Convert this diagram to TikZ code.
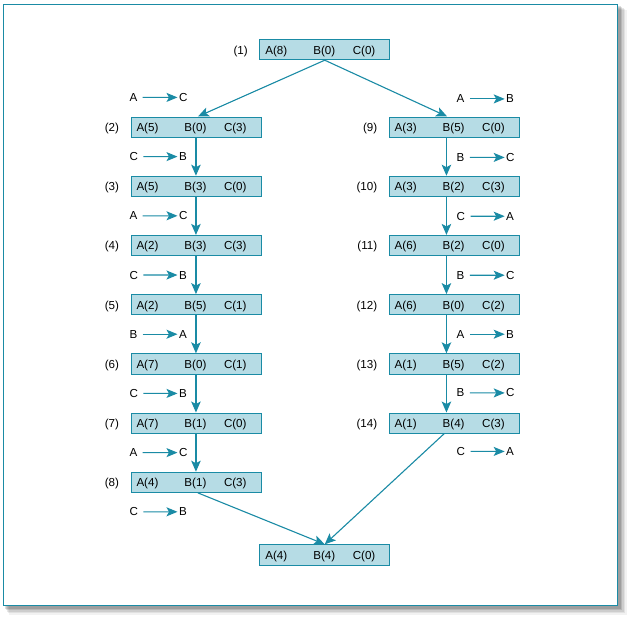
\documentclass[tikz,border=0pt]{standalone}
\usepackage{fontspec}
\setmainfont{Liberation Sans}
\usetikzlibrary{arrows.meta}
\definecolor{tealc}{HTML}{1A8BA5}
\definecolor{boxfill}{HTML}{B6DCE5}
\newcommand\stbox[7]{% name, left, top, label, a, b, c
  \node[st] (#1) at (#2,#3) {};
  \node[txt, anchor=base west] (#1a) at ([xshift=6pt,yshift=-4.4pt]#1.west) {#5};
  \node[txt, anchor=base] (#1b) at ([xshift=-0.5pt,yshift=-4.4pt]#1.center) {#6};
  \node[txt, anchor=base west] (#1c) at ([xshift=93.5pt,yshift=-4.4pt]#1.west) {#7};
  \node[txt, anchor=base east] (#1n) at ([xshift=-11.5pt,yshift=-4.4pt]#1.west) {#4};
}
\newcommand\mvlabel[5]{% name, x, y, L1, L2
  \node[txt, anchor=base west] (#1p) at (#2,#3+4.4) {#4};
  \node[txt, anchor=base west] (#1q) at (#2+49.5,#3+4.4) {#5};
  \draw[mv] ([xshift=5.5pt]#1p.east) -- ([xshift=-1.5pt]#1q.west);
}
\begin{document}
\begin{tikzpicture}[x=1pt,y=-1pt,
  txt/.style={font=\fontsize{11.6}{13}\selectfont, inner sep=0pt, outer sep=0pt},
  st/.style={draw=tealc, fill=boxfill, line width=0.9pt, minimum width=130pt, minimum height=20.3pt, anchor=north west, inner sep=0pt},
  conn/.style={draw=tealc, line width=1.1pt, -{Stealth[length=11pt,width=9.5pt,inset=2.5pt]}},
  mv/.style={draw=tealc, line width=1.1pt, -{Stealth[length=11pt,width=9pt,inset=2.5pt]}}]
\useasboundingbox (0,0) rectangle (630,619);
% shadow
\foreach \d/\o in {9/0.05,7.5/0.07,6/0.09,4.5/0.11,3/0.13}{
  \fill[black, opacity=\o] (3.5+\d*0.6,4.5+\d*0.6) rectangle (617.5+\d,605.5+\d);
}
\draw[tealc, line width=1.3pt, fill=white] (3.5,4.5) rectangle (617.5,605.5);

% boxes
\stbox{b1}{259.3}{39}{(1)}{A(8)}{B(0)}{C(0)}
\stbox{b2}{130.5}{116.5}{(2)}{A(5)}{B(0)}{C(3)}
\stbox{b3}{130.5}{175.7}{(3)}{A(5)}{B(3)}{C(0)}
\stbox{b4}{130.5}{234.9}{(4)}{A(2)}{B(3)}{C(3)}
\stbox{b5}{130.5}{294.1}{(5)}{A(2)}{B(5)}{C(1)}
\stbox{b6}{130.5}{353.3}{(6)}{A(7)}{B(0)}{C(1)}
\stbox{b7}{130.5}{412.5}{(7)}{A(7)}{B(1)}{C(0)}
\stbox{b8}{130.5}{471.7}{(8)}{A(4)}{B(1)}{C(3)}
\stbox{b9}{388.7}{116.5}{(9)}{A(3)}{B(5)}{C(0)}
\stbox{b10}{388.7}{175.7}{(10)}{A(3)}{B(2)}{C(3)}
\stbox{b11}{388.7}{234.9}{(11)}{A(6)}{B(2)}{C(0)}
\stbox{b12}{388.7}{294.1}{(12)}{A(6)}{B(0)}{C(2)}
\stbox{b13}{388.7}{353.3}{(13)}{A(1)}{B(5)}{C(2)}
\stbox{b14}{388.7}{412.5}{(14)}{A(1)}{B(4)}{C(3)}
\stbox{bf}{259.3}{544.3}{}{A(4)}{B(4)}{C(0)}

% connectors
\draw[conn] (b1.south) -- ([xshift=2pt]b2.north);
\draw[conn] (b1.south) -- ([xshift=-7pt]b9.north);
\foreach \u/\v in {b2/b3,b3/b4,b4/b5,b5/b6,b6/b7,b7/b8}{
  \draw[conn] (\u.south) -- (\v.north);
}
\foreach \u/\v in {b9/b10,b10/b11,b11/b12,b12/b13,b13/b14}{
  \draw[conn] ([xshift=-7.7pt]\u.south) -- ([xshift=-7.7pt]\v.north);
}
\draw[conn] ([xshift=2pt]b8.south) -- (bf.north);
\draw[conn] ([xshift=-10pt]b14.south) -- (bf.north);

% move labels left
\mvlabel{l1}{129.5}{97}{A}{C}
\mvlabel{l2}{129.5}{156.2}{C}{B}
\mvlabel{l3}{129.5}{215.4}{A}{C}
\mvlabel{l4}{129.5}{274.6}{C}{B}
\mvlabel{l5}{129.5}{333.8}{B}{A}
\mvlabel{l6}{129.5}{393}{C}{B}
\mvlabel{l7}{129.5}{452.2}{A}{C}
\mvlabel{l8}{129.5}{511.4}{C}{B}
% move labels right
\mvlabel{r1}{456.7}{98.5}{A}{B}
\mvlabel{r2}{456.7}{157}{B}{C}
\mvlabel{r3}{456.7}{215.8}{C}{A}
\mvlabel{r4}{456.7}{274.8}{B}{C}
\mvlabel{r5}{456.7}{333.8}{A}{B}
\mvlabel{r6}{456.7}{392.5}{B}{C}
\mvlabel{r7}{456.7}{451}{C}{A}
\end{tikzpicture}
\end{document}
